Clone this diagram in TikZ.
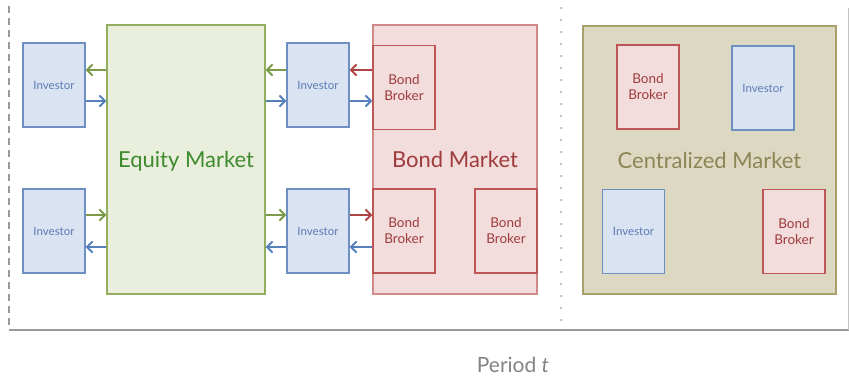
\documentclass[tikz,border=0pt]{standalone}
\usepackage{fontspec}
\setmainfont{Lato}
\usetikzlibrary{arrows.meta}

\definecolor{invfill}{HTML}{DAE3F1}
\definecolor{invline}{HTML}{6E8FC2}
\definecolor{invtext}{HTML}{5A7CB4}
\definecolor{cashcol}{HTML}{5580BC}
\definecolor{eqfill}{HTML}{EAEEDD}
\definecolor{eqline}{HTML}{93AE5E}
\definecolor{eqtext}{HTML}{3D8B2E}
\definecolor{eqcol}{HTML}{7C9B48}
\definecolor{bdfill}{HTML}{F2DCDC}
\definecolor{bdline}{HTML}{BC5656}
\definecolor{bdtext}{HTML}{9E3B3B}
\definecolor{bdcol}{HTML}{AE4444}
\definecolor{cmfill}{HTML}{DDD8C2}
\definecolor{cmline}{HTML}{A8A06A}
\definecolor{cmtext}{HTML}{8C8555}
\definecolor{framecol}{HTML}{9A9A9A}

\tikzset{
  invbox/.style={draw=invline, fill=invfill, text=invtext, line width=1.2pt,
    minimum width=62pt, minimum height=84pt, inner sep=0pt,
    font=\fontsize{11.5}{13}\selectfont},
  brokerbox/.style={draw=bdline, fill=bdfill, text=bdtext, line width=1.2pt,
    minimum width=62pt, minimum height=84pt, inner sep=0pt, align=center,
    font=\fontsize{13.5}{16}\selectfont},
  market/.style={line width=1.2pt, inner sep=0pt, text depth=0pt,
    font=\fontsize{22}{24}\selectfont},
  flow/.style={-{Straight Barb[length=5.5pt,width=11pt]}, line width=2pt},
}

\begin{document}
\begin{tikzpicture}[x=1pt,y=-1pt]
    \useasboundingbox (0,0) rectangle (849,380);

    % frame of the period
    \draw[framecol, line width=1.5pt, dash pattern=on 7pt off 5pt] (9,6) -- (9,330);
    \draw[framecol, line width=1.5pt] (9,330) -- (849,330);
    \draw[framecol!60, line width=0.8pt] (848,8) -- (848,330);
    \draw[framecol, line width=2pt, line cap=round, dash pattern=on 0pt off 12pt] (561,8) -- (561,326);

    % equity market
    \node[market, draw=eqline, fill=eqfill, text=eqtext,
      minimum width=158pt, minimum height=269pt] (eq) at (186,159.5) {Equity Market};

    \node[invbox] (inv1) at (54,85) {Investor};
    \node[invbox] (inv2) at (54,231) {Investor};
    \node[invbox] (inv3) at (318,85) {Investor};
    \node[invbox] (inv4) at (318,231) {Investor};

    % bond market
    \node[market, draw=bdline!70, fill=bdfill, text=bdtext,
      minimum width=164pt, minimum height=269pt] (bond) at (455,159.5) {Bond Market};

    \node[brokerbox] (bb1) at (404,87.5) {Bond\\Broker};
    \node[brokerbox] (bb2) at (404,231) {Bond\\Broker};
    \node[brokerbox] (bb3) at (506,231) {Bond\\Broker};

    % centralized market
    \node[market, draw=cmline, fill=cmfill, text=cmtext,
      minimum width=253pt, minimum height=268pt] (cm) at (709.5,160) {Centralized Market};

    \node[brokerbox] (cb1) at (648,87) {Bond\\Broker};
    \node[invbox] (ci1) at (763,88) {Investor};
    \node[invbox] (ci2) at (633.5,231.5) {Investor};
    \node[brokerbox] (cb2) at (794,231.5) {Bond\\Broker};

    % flows, left side
    \draw[flow, eqcol] ([yshift=15pt]inv1.east -| eq.west) -- ([yshift=15pt]inv1.east);
    \draw[flow, cashcol] ([yshift=-16pt]inv1.east) -- ([yshift=-16pt]inv1.east -| eq.west);
    \draw[flow, eqcol] ([yshift=16pt]inv2.east) -- ([yshift=16pt]inv2.east -| eq.west);
    \draw[flow, cashcol] ([yshift=-16pt]inv2.east -| eq.west) -- ([yshift=-16pt]inv2.east);

    % flows, middle
    \draw[flow, eqcol] ([yshift=15pt]inv3.west) -- ([yshift=15pt]inv3.west -| eq.east);
    \draw[flow, cashcol] ([yshift=-16pt]inv3.west -| eq.east) -- ([yshift=-16pt]inv3.west);
    \draw[flow, eqcol] ([yshift=16pt]inv4.west -| eq.east) -- ([yshift=16pt]inv4.west);
    \draw[flow, cashcol] ([yshift=-16pt]inv4.west) -- ([yshift=-16pt]inv4.west -| eq.east);

    % flows, bond brokers
    \draw[flow, bdcol] ([yshift=15pt]inv3.east -| bb1.west) -- ([yshift=15pt]inv3.east);
    \draw[flow, cashcol] ([yshift=-16pt]inv3.east) -- ([yshift=-16pt]inv3.east -| bb1.west);
    \draw[flow, bdcol] ([yshift=16pt]inv4.east) -- ([yshift=16pt]inv4.east -| bb2.west);
    \draw[flow, cashcol] ([yshift=-16pt]inv4.east -| bb2.west) -- ([yshift=-16pt]inv4.east);

    \node[text=framecol!85!black, font=\fontsize{21}{23}\selectfont, inner sep=0pt,
      anchor=base] (per) at (513,372) {Period \textit{t}};
\end{tikzpicture}
\end{document}
